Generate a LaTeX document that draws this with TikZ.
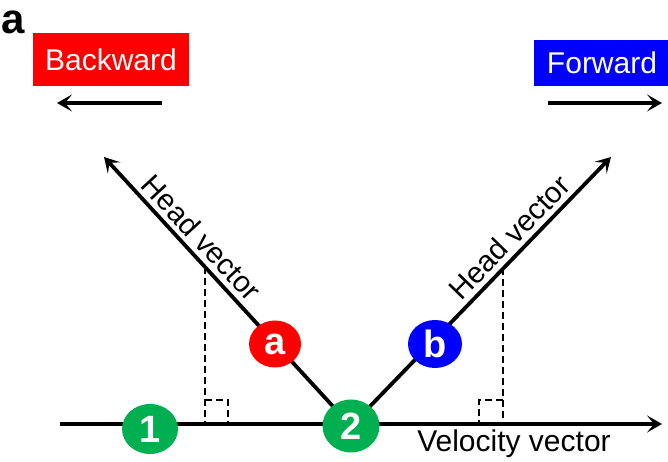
\documentclass[tikz,border=0pt]{standalone}
\usepackage{fontspec}
\setmainfont{Liberation Sans}
\usetikzlibrary{arrows.meta,backgrounds,shapes.geometric,calc}
\definecolor{pgreen}{HTML}{00B050}
\definecolor{pred}{HTML}{FF0000}
\definecolor{pblue}{HTML}{0000FF}
\tikzset{
  vec/.style={line width=3.8pt,-{Stealth[length=15pt,width=17pt,inset=7pt]}},
  dashline/.style={line width=2.5pt,dash pattern=on 7pt off 4pt},
  ball/.style={ellipse,fill=#1,minimum width=55pt,minimum height=51pt,inner sep=0pt,
    text=white,font=\fontsize{38}{40}\selectfont\bfseries},
  tag/.style={fill=#1,text=white,inner sep=0pt,font=\fontsize{30}{33}\selectfont},
  lab/.style={font=\fontsize{29.5}{32}\selectfont,inner sep=6pt}
}
\begin{document}
\begin{tikzpicture}[x=1pt,y=1pt]
\useasboundingbox (0,0) rectangle (668,462);
% nodes
\node[anchor=base west,font=\fontsize{42}{44}\selectfont\bfseries,inner sep=0pt] (lbl) at (1,428) {a};
\node[tag=pred,minimum width=156pt,minimum height=53pt] (bw) at (111,402.5) {Backward};
\node[tag=pblue,minimum width=136pt,minimum height=46pt] (fw) at (602,399) {Forward};
\coordinate (bwS) at (162,359);
\coordinate (bwE) at (57,359);
\coordinate (fwS) at (548,359);
\coordinate (fwE) at (662,359);
\coordinate (vS) at (60,38);
\coordinate (vE) at (662,38);
\coordinate (tipL) at (104,305);
\coordinate (tipR) at (611,305);
\coordinate (dL) at (205,195);
\coordinate (dLb) at (205,38);
\coordinate (dR) at (503,194);
\coordinate (dRb) at (503,38);
\node[ball=pgreen,minimum width=56pt,minimum height=50pt] (n1) at (150,33) {1};
\node[ball=pgreen,minimum width=57pt,minimum height=53pt] (n2) at (351,36) {2};
\node[ball=pred,minimum width=52pt,minimum height=47pt] (na) at (275,118) {a};
\node[ball=pblue,minimum width=54pt,minimum height=48pt] (nb) at (435,118) {b};
\node[lab,anchor=south,rotate=-47.2] (hl) at ($(351,38)!0.655!(tipL)$) {Head vector};
\node[lab,anchor=south,rotate=45.8] (hr) at ($(351,38)!0.655!(tipR)$) {Head vector};
\node[lab,font=\fontsize{30}{32}\selectfont,inner sep=0pt] (vl) at (514,18) {Velocity vector};
\begin{scope}[on background layer]
\draw[vec] (bwS) -- (bwE);
\draw[vec] (fwS) -- (fwE);
\draw[vec] (vS) -- (vE);
\draw[vec] (n2.center) -- (tipL);
\draw[vec] (n2.center) -- (tipR);
\draw[dashline] (dL) -- (dLb);
\draw[dashline] (dR) -- (dRb);
\draw[dashline] ($(dLb)+(0,24)$) -- ($(dLb)+(23,24)$) -- ($(dLb)+(23,0)$);
\draw[dashline] ($(dRb)+(0,24)$) -- ($(dRb)+(-24,24)$) -- ($(dRb)+(-24,0)$);
\end{scope}
\end{tikzpicture}
\end{document}
